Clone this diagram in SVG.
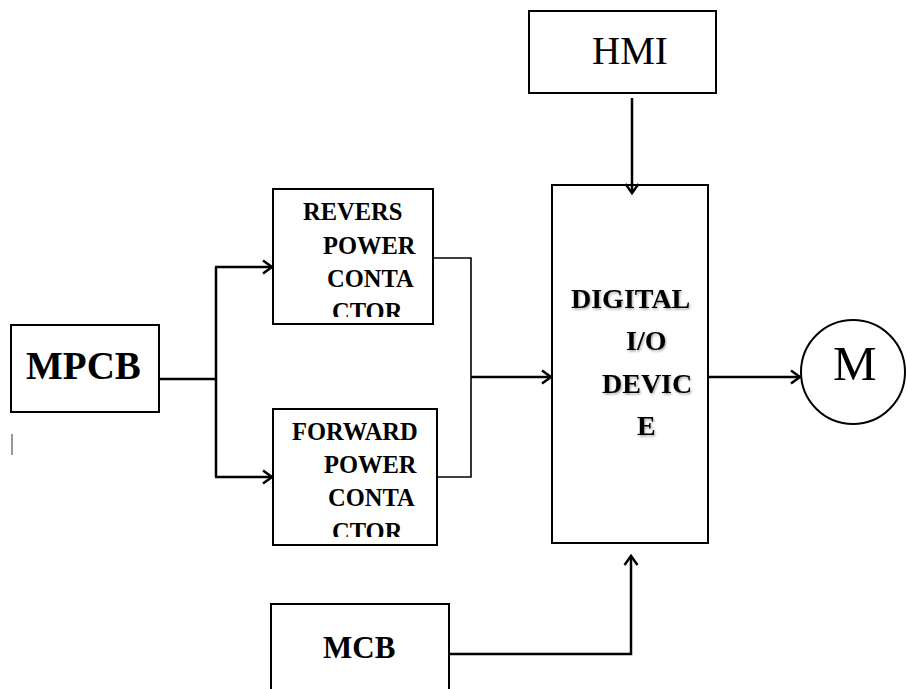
<svg xmlns="http://www.w3.org/2000/svg" width="907" height="689" viewBox="0 0 907 689">
<style>
.box{fill:#fff;stroke:#000;stroke-width:2}
.ln{fill:none;stroke:#000;stroke-width:2.5}
.thin{fill:none;stroke:#000;stroke-width:1.6}
.b{font-family:"Liberation Serif","Times New Roman",serif;font-weight:bold;fill:#000}
.r{font-family:"Liberation Serif","Times New Roman",serif;fill:#000}
</style>
<defs>
<marker id="ah" markerUnits="userSpaceOnUse" markerWidth="18" markerHeight="18" refX="12" refY="9" orient="auto">
<path d="M3,2.5 L12,9 L3,15.5" fill="none" stroke="#000" stroke-width="2.5"/>
</marker>
<clipPath id="cr"><rect x="274" y="190" width="158" height="127"/></clipPath>
<clipPath id="cf"><rect x="274" y="410" width="162" height="127"/></clipPath>
<filter id="sh" x="-10%" y="-10%" width="130%" height="140%">
<feDropShadow dx="1" dy="1.5" stdDeviation="1" flood-color="#000" flood-opacity="0.35"/>
</filter>
</defs>

<g id="hmi">
<rect class="box" x="529" y="11" width="187" height="82"/>
<text class="r" x="592" y="64" font-size="39">HMI</text>
</g>

<g id="mpcb">
<rect class="box" x="11" y="325" width="148" height="87"/>
<text class="b" x="26" y="379" font-size="39">MPCB</text>
</g>

<g id="revers">
<rect class="box" x="273" y="189" width="160" height="135"/>
<g clip-path="url(#cr)" font-size="24.5">
<text class="b" x="303" y="220">REVERS</text>
<text class="b" x="323" y="254">POWER</text>
<text class="b" x="327" y="287">CONTA</text>
<text class="b" x="332" y="320">CTOR</text>
</g>
</g>

<g id="forward">
<rect class="box" x="273" y="409" width="164" height="136"/>
<g clip-path="url(#cf)" font-size="24.5">
<text class="b" x="292" y="440">FORWARD</text>
<text class="b" x="324" y="473">POWER</text>
<text class="b" x="328" y="506">CONTA</text>
<text class="b" x="332" y="540">CTOR</text>
</g>
</g>

<g id="digital">
<rect class="box" x="552" y="185" width="156" height="358"/>
<g filter="url(#sh)" font-size="28">
<text class="b" x="571" y="308">DIGITAL</text>
<text class="b" x="626" y="350">I/O</text>
<text class="b" x="602" y="393">DEVIC</text>
<text class="b" x="637" y="435">E</text>
</g>
</g>

<g id="motor">
<circle cx="853" cy="372" r="52" fill="#fff" stroke="#000" stroke-width="2"/>
<text class="r" x="833" y="380" font-size="49">M</text>
</g>

<g id="mcb">
<rect class="box" x="271" y="604" width="178" height="95"/>
<text class="b" x="323" y="658" font-size="31">MCB</text>
</g>

<g id="connectors">
<line class="ln" x1="632" y1="98" x2="632" y2="193" marker-end="url(#ah)"/>
<polyline class="ln" points="159,379 217,379"/>
<polyline class="ln" points="216,267 216,477"/>
<line class="ln" x1="215" y1="267" x2="272" y2="267" marker-end="url(#ah)"/>
<line class="ln" x1="215" y1="477" x2="272" y2="477" marker-end="url(#ah)"/>
<polyline class="thin" points="433,258 471,258 471,477 437,477"/>
<line class="ln" x1="471" y1="377" x2="551" y2="377" marker-end="url(#ah)"/>
<line class="ln" x1="708" y1="377" x2="800" y2="377" marker-end="url(#ah)"/>
<polyline class="ln" points="449,654 631,654 631,556" marker-end="url(#ah)"/>
</g>

<line x1="12" y1="434" x2="12" y2="455" stroke="#777" stroke-width="1.5"/>
</svg>
